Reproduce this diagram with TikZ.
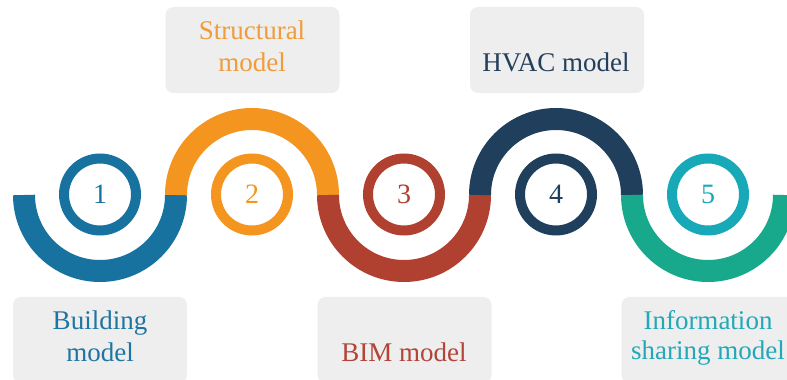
\documentclass[tikz,border=0pt]{standalone}
\usepackage{fontspec}
\setmainfont{Liberation Serif}
\definecolor{cblue}{HTML}{17729F}
\definecolor{corange}{HTML}{F3951F}
\definecolor{cred}{HTML}{B04030}
\definecolor{cnavy}{HTML}{1F3F5C}
\definecolor{cgreen}{HTML}{18A98C}
\definecolor{ccyan}{HTML}{17A9B8}
\definecolor{tblue}{HTML}{1E75A3}
\definecolor{torange}{HTML}{F09C3A}
\definecolor{tred}{HTML}{B24438}
\definecolor{tnavy}{HTML}{223F5C}
\definecolor{tcyan}{HTML}{22A8B8}
\definecolor{boxgray}{HTML}{EEEEEE}
\begin{document}
\begin{tikzpicture}[x=1pt,y=1pt,
  band/.style={line width=22pt,line cap=butt},
  ring/.style={draw=#1,line width=10pt,circle,minimum size=72pt,inner sep=0pt,
    text=#1,font=\fontsize{28}{32}\selectfont},
  labelbox/.style={fill=boxgray,rounded corners=8pt,minimum width=174pt,minimum height=86pt,inner sep=0pt},
  lbl/.style={anchor=base,font=\fontsize{27}{32}\selectfont,text=#1,inner sep=0pt}]
\useasboundingbox (0,0) rectangle (787,380);
\clip (0,0) rectangle (787,380);
% label boxes
\node[labelbox] (b1) at (100,40) {};
\node[labelbox] (b2) at (252.5,330) {};
\node[labelbox] (b3) at (404.5,40) {};
\node[labelbox] (b4) at (557,330) {};
\node[labelbox] (b5) at (708.5,40) {};
% labels
\node[lbl=tblue] (l1a) at (100,50) {Building};
\node[lbl=tblue] (l1b) at (100,18) {model};
\node[lbl=torange] (l2a) at (252,340) {Structural};
\node[lbl=torange] (l2b) at (252,308) {model};
\node[lbl=tred] (l3) at (404,18) {BIM model};
\node[lbl=tnavy] (l4) at (556,308) {HVAC model};
\node[lbl=tcyan] (l5a) at (708,50) {Information};
\node[lbl=tcyan] (l5b) at (708,20) {sharing model};
% wave bands
\draw[band,cblue] (24,185) arc[start angle=180,end angle=360,radius=76];
\draw[band,corange] (176,185) arc[start angle=180,end angle=0,radius=76];
\draw[band,cred] (328,185) arc[start angle=180,end angle=360,radius=76];
\draw[band,cnavy] (480,185) arc[start angle=180,end angle=0,radius=76];
\draw[band,cgreen] (632,185) arc[start angle=180,end angle=360,radius=76];
% numbered rings
\node[ring=cblue] (n1) at (100,185.5) {1};
\node[ring=corange] (n2) at (252,185.5) {2};
\node[ring=cred] (n3) at (404,185.5) {3};
\node[ring=cnavy] (n4) at (556,185.5) {4};
\node[ring=ccyan] (n5) at (708,185.5) {5};
\end{tikzpicture}
\end{document}
